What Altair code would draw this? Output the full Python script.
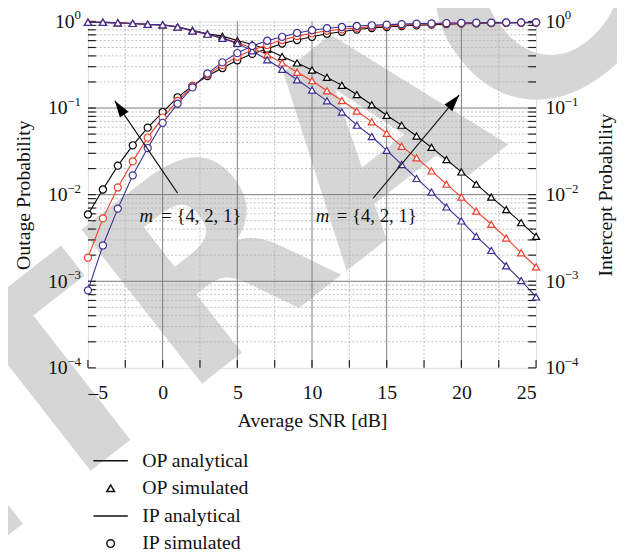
import altair as alt
import pandas as pd

# ---------------- data ----------------
snr = list(range(-5, 26))
series_names = ["m = 1", "m = 2", "m = 4"]
series_colors = ["#000000", "#ef3e2b", "#3a2e96"]

op_black = [0.975, 0.975, 0.962, 0.948, 0.925, 0.912, 0.867, 0.791, 0.721, 0.676, 0.601,
            0.542, 0.475, 0.394, 0.332, 0.275, 0.226, 0.183, 0.143, 0.109, 0.0824,
            0.0634, 0.0476, 0.0352, 0.0254, 0.0183, 0.0132, 0.00938, 0.00673, 0.00475, 0.00330]
op_red = [0.975, 0.975, 0.962, 0.948, 0.925, 0.912, 0.861, 0.776, 0.713, 0.641, 0.570,
          0.494, 0.412, 0.332, 0.259, 0.207, 0.158, 0.122, 0.0923, 0.0693, 0.0511,
          0.0361, 0.0266, 0.0188, 0.0132, 0.00938, 0.00646, 0.00455, 0.00316, 0.00213, 0.00147]
op_blue = [0.975, 0.975, 0.962, 0.948, 0.925, 0.912, 0.861, 0.776, 0.713, 0.637, 0.558,
           0.457, 0.361, 0.280, 0.212, 0.161, 0.121, 0.0899, 0.0634, 0.0469, 0.0325,
           0.0223, 0.0154, 0.0107, 0.00721, 0.00497, 0.00330, 0.00227, 0.00151, 0.00102, 0.000659]

ip_black = [0.00590, 0.01146, 0.0216, 0.0371, 0.0593, 0.0899, 0.133, 0.180, 0.234, 0.290, 0.356,
            0.423, 0.482, 0.556, 0.610, 0.664, 0.721, 0.760, 0.805, 0.839, 0.861,
            0.885, 0.902, 0.918, 0.931, 0.942, 0.948, 0.957, 0.962, 0.966, 0.968]
ip_red = [0.00187, 0.00532, 0.0121, 0.0242, 0.0456, 0.0776, 0.121, 0.179, 0.244, 0.313, 0.391,
          0.469, 0.535, 0.610, 0.676, 0.731, 0.780, 0.811, 0.843, 0.871, 0.889,
          0.908, 0.925, 0.938, 0.944, 0.948, 0.957, 0.962, 0.966, 0.968, 0.975]
ip_blue = [0.000785, 0.00259, 0.0069, 0.0167, 0.0345, 0.0675, 0.112, 0.173, 0.251, 0.337, 0.431,
           0.521, 0.598, 0.664, 0.736, 0.791, 0.835, 0.862, 0.885, 0.902, 0.918,
           0.931, 0.942, 0.948, 0.957, 0.962, 0.966, 0.968, 0.971, 0.973, 0.975]

legend_labels = ["OP analytical", "OP simulated", "IP analytical", "IP simulated"]
legend_shapes = ["M-4.5,0H4.5", "triangle-up", "M-4.5,0H4.5", "circle"]

x_major = [-5, 0, 5, 10, 15, 20, 25]
x_grid_major = [0, 5, 10, 15, 20]
x_minor = [-2.5, 2.5, 7.5, 12.5, 17.5, 22.5]
y_major = [1e-4, 1e-3, 1e-2, 1e-1, 1]
y_exponents = ["\u22124", "\u22123", "\u22122", "\u22121", "0"]
y_grid_major = [1e-3, 1e-2, 1e-1]
y_minor = [2e-4, 3e-4, 4e-4, 5e-4, 6e-4, 7e-4, 8e-4, 9e-4,
           2e-3, 3e-3, 4e-3, 5e-3, 6e-3, 7e-3, 8e-3, 9e-3,
           2e-2, 3e-2, 4e-2, 5e-2, 6e-2, 7e-2, 8e-2, 9e-2,
           0.2, 0.3, 0.4, 0.5, 0.6, 0.7, 0.8, 0.9]

# annotations (data coordinates)
arrow_x = [-3.2, 19.85]
arrow_y = [0.121, 0.141]
arrow_x2 = [1.0, 14.1]
arrow_y2 = [0.0104, 0.0091]
arrow_angle = [326, 40]
note_m_x = [-1.55, 10.25]
note_rest_x = [-0.1, 11.65]
note_y = [0.0056, 0.0056]
note_rest = ["= {4, 2, 1}", "= {4, 2, 1}"]

# ---------------- tables ----------------
rows = []
for name, op, ip in zip(series_names, [op_black, op_red, op_blue], [ip_black, ip_red, ip_blue]):
    for s, o, i in zip(snr, op, ip):
        rows.append({"snr": s, "p": o, "m": name, "curve": "OP"})
        rows.append({"snr": s, "p": i, "m": name, "curve": "IP"})
df = pd.DataFrame(rows)

arrows = pd.DataFrame({"x": arrow_x, "y": arrow_y, "x2": arrow_x2, "y2": arrow_y2, "a": arrow_angle})
notes = pd.DataFrame({"xm": note_m_x, "xr": note_rest_x, "y": note_y, "rest": note_rest})
exps = pd.DataFrame({"v": y_major, "e": y_exponents})

W, H = 454, 351
FONT = "Liberation Serif"
FS = 20
INK = "#111"
xs = alt.Scale(domain=[-5, 25], nice=False, zero=False)
ys = alt.Scale(type="log", domain=[1e-4, 1], nice=False)
cs = alt.Scale(domain=series_names, range=series_colors)
shape_scale = alt.Scale(domain=legend_labels, range=legend_shapes)

# watermark (background)
watermark = alt.Chart(pd.DataFrame({"t": ["RETRACTED"]})).mark_text(
    fontSize=272, font="DejaVu Sans", fontWeight="bold", angle=322,
    color="#d6d6d6", align="center", baseline="middle"
).encode(x=alt.value(296), y=alt.value(122), text="t:N")

# grids
gx_minor = alt.Chart(pd.DataFrame({"v": x_minor})).mark_rule(
    color="#b0b0b0", strokeDash=[2, 2], strokeWidth=0.8
).encode(x=alt.X("v:Q", scale=xs, axis=None))
gy_minor = alt.Chart(pd.DataFrame({"v": y_minor})).mark_rule(
    color="#b0b0b0", strokeDash=[2, 2], strokeWidth=0.8
).encode(y=alt.Y("v:Q", scale=ys, axis=None))
gx_major = alt.Chart(pd.DataFrame({"v": x_grid_major})).mark_rule(
    color="#7a7a7a", strokeWidth=1
).encode(x=alt.X("v:Q", scale=xs, axis=None))
gy_major = alt.Chart(pd.DataFrame({"v": y_grid_major})).mark_rule(
    color="#7a7a7a", strokeWidth=1
).encode(y=alt.Y("v:Q", scale=ys, axis=None))

# inward ticks
yt = pd.DataFrame({"v": y_minor + y_major})
tick_left = alt.Chart(yt).mark_rule(color="#222", strokeWidth=1.2).encode(
    y=alt.Y("v:Q", scale=ys, axis=None), x=alt.value(0), x2=alt.value(8))
tick_right = alt.Chart(yt).mark_rule(color="#222", strokeWidth=1.2).encode(
    y=alt.Y("v:Q", scale=ys, axis=alt.Axis(
        orient="right", values=y_major, labelExpr="'10'", ticks=False, domain=False,
        grid=False, labelFontSize=FS, labelPadding=9, labelFont=FONT,
        title="Intercept Probability", titleAngle=270, titleFontSize=FS,
        titleFont=FONT, titleFontWeight="normal", titlePadding=51, labelColor=INK,
        titleColor=INK, zindex=2)),
    x=alt.value(W - 8), x2=alt.value(W))
xt = pd.DataFrame({"v": x_minor + x_major})
tick_bottom = alt.Chart(xt).mark_rule(color="#222", strokeWidth=1.2).encode(
    x=alt.X("v:Q", scale=xs, axis=None), y=alt.value(H - 8), y2=alt.value(H))

# curves
lines = alt.Chart(df).mark_line(strokeWidth=1.1).encode(
    x=alt.X("snr:Q", scale=xs, axis=alt.Axis(
        values=x_major, labelExpr="datum.value < 0 ? '\u2013' + abs(datum.value) : '' + datum.value",
        ticks=False, domain=False, grid=False, labelFontSize=FS, labelFont=FONT,
        labelPadding=15, title="Average SNR [dB]", titleFontSize=FS, titleFont=FONT,
        titleFontWeight="normal", titlePadding=8, labelColor=INK, titleColor=INK, zindex=2)),
    y=alt.Y("p:Q", scale=ys, axis=alt.Axis(
        orient="left", values=y_major, labelExpr="'10'", ticks=False, domain=False,
        grid=False, labelFontSize=FS, labelFont=FONT,
        labelPadding={"condition": {"test": "datum.value >= 0.5", "value": 14}, "value": 21},
        title="Outage Probability", titleFontSize=FS, titleFont=FONT,
        titleFontWeight="normal", titlePadding=14, labelColor=INK, titleColor=INK, zindex=2)),
    color=alt.Color("m:N", scale=cs, legend=None),
    detail="curve:N",
)

points = alt.Chart(df).mark_point(filled=True, size=52, strokeWidth=1.2, opacity=1).encode(
    x=alt.X("snr:Q", scale=xs, axis=None),
    y=alt.Y("p:Q", scale=ys, axis=None),
    stroke=alt.Stroke("m:N", scale=cs, legend=None),
    fill=alt.value("white"),
    shape=alt.Shape("curve:N", scale=alt.Scale(domain=["OP", "IP"], range=["triangle-up", "circle"]),
                    legend=None),
)

# legend (symbols drawn outside the view, only the legend shows)
legend_layer = alt.Chart(pd.DataFrame({"label": legend_labels})).mark_point(
    filled=False, size=60, strokeWidth=1.1, color=INK, opacity=1
).encode(
    x=alt.value(-2000), y=alt.value(-2000),
    shape=alt.Shape("label:N", scale=shape_scale, legend=alt.Legend(
        title=None, orient="none", legendX=13, legendY=435,
        labelFont=FONT, labelFontSize=FS, labelColor=INK,
        labelOffset=22, rowPadding=8, symbolSize=60, padding=0, zindex=2)),
)

# exponents of the tick labels
exp_left = alt.Chart(exps).mark_text(
    font=FONT, fontSize=13, align="right", baseline="middle", dy=-6, color=INK
).encode(y=alt.Y("v:Q", scale=ys, axis=None), x=alt.value(-7), text="e:N")
exp_right = alt.Chart(exps).mark_text(
    font=FONT, fontSize=13, align="left", baseline="middle", dy=-6, color=INK
).encode(y=alt.Y("v:Q", scale=ys, axis=None), x=alt.value(W + 29), text="e:N")

# arrows
arrow_lines = alt.Chart(arrows).mark_rule(color=INK, strokeWidth=1.1).encode(
    x=alt.X("x:Q", scale=xs, axis=None), y=alt.Y("y:Q", scale=ys, axis=None),
    x2="x2:Q", y2="y2:Q")
arrow_heads = alt.Chart(arrows).mark_point(
    shape="M0,0L0.65,2.1L-0.65,2.1Z", filled=True, color="#000", size=260, opacity=1
).encode(x=alt.X("x:Q", scale=xs, axis=None), y=alt.Y("y:Q", scale=ys, axis=None),
         angle=alt.Angle("a:Q", scale=None))

note_m = alt.Chart(notes).mark_text(
    text="m", font=FONT, fontStyle="italic", fontSize=19, align="left", baseline="middle", color=INK
).encode(x=alt.X("xm:Q", scale=xs, axis=None), y=alt.Y("y:Q", scale=ys, axis=None))
note_r = alt.Chart(notes).mark_text(
    font=FONT, fontSize=19, align="left", baseline="middle", color=INK
).encode(x=alt.X("xr:Q", scale=xs, axis=None), y=alt.Y("y:Q", scale=ys, axis=None), text="rest:N")

chart = alt.layer(
    watermark, gx_minor, gy_minor, gx_major, gy_major,
    tick_left, tick_bottom, lines, tick_right, points, legend_layer,
    exp_left, exp_right, arrow_lines, arrow_heads, note_m, note_r,
).resolve_axis(x="independent", y="independent").resolve_scale(shape="independent").properties(
    width=W, height=H,
    padding={"left": 81, "top": 10, "right": 82, "bottom": 186},
    autosize=alt.AutoSizeParams(type="none"),
).configure_view(stroke="#222", strokeWidth=1.4).configure(background="white")

chart.save("out.html", embed_options={"renderer": "svg", "actions": False})
